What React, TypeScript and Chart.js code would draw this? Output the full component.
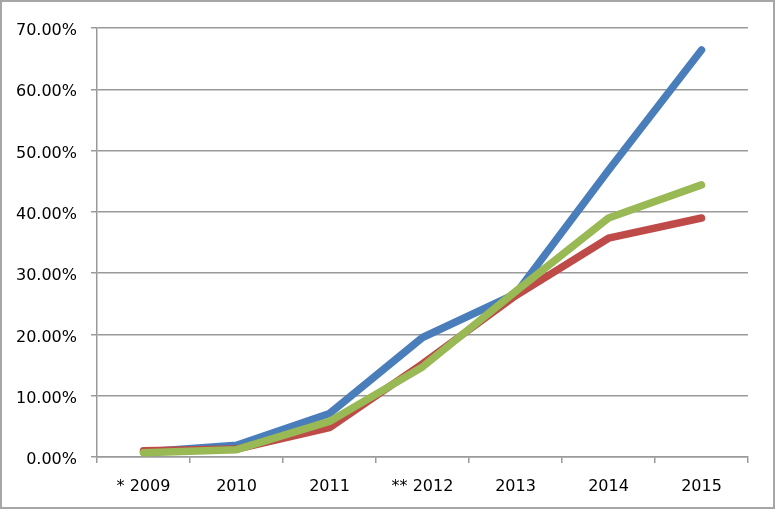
import { Chart, registerables } from 'chart.js';
import React, { useEffect, useRef } from 'react';

Chart.register(...registerables);

const years = ['* 2009', '2010', '2011', '** 2012', '2013', '2014', '2015'];
const blueSeries = [0.8, 1.9, 7.1, 19.5, 26.6, 46.8, 66.4];
const redSeries = [1.0, 1.3, 4.8, 15.2, 26.3, 35.7, 39.0];
const greenSeries = [0.7, 1.2, 5.8, 14.7, 27.0, 39.0, 44.4];

const axisGray = '#9a9a9a';
const labelFont = { family: 'DejaVu Sans', size: 16 };

export default function App() {
    const chartRef = useRef<HTMLCanvasElement>(null);
    const chartInstance = useRef<Chart | null>(null);

    useEffect(() => {
        document.body.style.margin = '0';
        if (!chartRef.current) return;
        const context = chartRef.current.getContext('2d');

        if (chartInstance.current) {
            chartInstance.current.destroy();
        }

        const line = (data: number[], color: string, order: number) => ({
            data,
            borderColor: color,
            backgroundColor: color,
            borderWidth: 7.5,
            borderCapStyle: 'round' as const,
            borderJoinStyle: 'round' as const,
            pointRadius: 0,
            tension: 0,
            clip: false as const,
            order,
        });

        chartInstance.current = new Chart(context!, {
            type: 'line',
            data: {
                labels: years,
                datasets: [
                    line(blueSeries, '#4a7ebb', 3),
                    line(redSeries, '#be4b48', 2),
                    line(greenSeries, '#98b954', 1),
                ],
            },
            options: {
                responsive: false,
                animation: false,
                layout: { padding: { top: 28, right: 28, left: 0, bottom: 0 } },
                plugins: {
                    legend: { display: false },
                    tooltip: { enabled: false },
                },
                scales: {
                    x: {
                        offset: true,
                        grid: {
                            offset: true,
                            drawOnChartArea: false,
                            drawTicks: true,
                            tickLength: 6,
                            color: axisGray,
                            lineWidth: 1.5,
                        },
                        border: { display: true, color: axisGray, width: 1.5 },
                        ticks: {
                            color: '#000',
                            font: labelFont,
                            padding: 14,
                            maxRotation: 0,
                            autoSkip: false,
                        },
                        afterFit: (scale) => {
                            scale.height = 55;
                        },
                    },
                    y: {
                        min: 0,
                        max: 70,
                        grid: {
                            color: axisGray,
                            lineWidth: 1.5,
                            drawTicks: true,
                            tickLength: 6,
                        },
                        border: { display: true, color: axisGray, width: 1.5 },
                        ticks: {
                            stepSize: 10,
                            color: '#000',
                            font: labelFont,
                            padding: 14,
                            labelOffset: 3,
                            callback: (v) => Number(v).toFixed(2) + '%',
                        },
                        afterFit: (scale) => {
                            scale.width = 97;
                        },
                    },
                },
            },
        });

        return () => {
            if (chartInstance.current) {
                chartInstance.current.destroy();
                chartInstance.current = null;
            }
        };
    }, []);

    return (
        <div style={{ position: 'relative', width: 776, height: 512, background: '#fff' }}>
            <canvas ref={chartRef} width={776} height={512} style={{ display: 'block' }} />
            <div
                style={{
                    position: 'absolute',
                    left: 0,
                    top: 0,
                    width: 775,
                    height: 509,
                    boxSizing: 'border-box',
                    border: '2px solid #a6a6a6',
                    pointerEvents: 'none',
                }}
            />
        </div>
    );
}
